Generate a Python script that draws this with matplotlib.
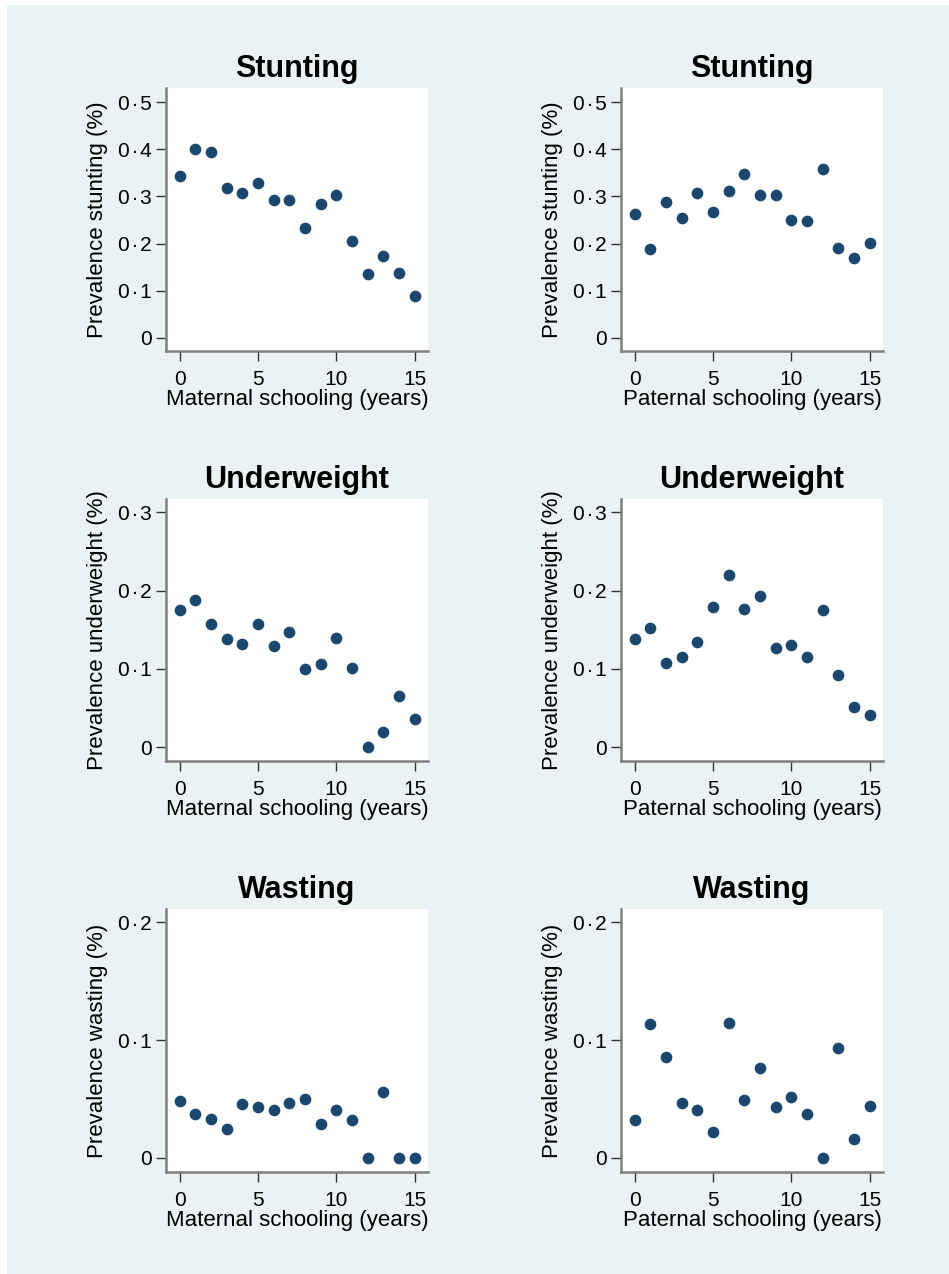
import numpy as np
import matplotlib
matplotlib.use("Agg")
import matplotlib.pyplot as plt
from matplotlib.patches import Rectangle

plt.rcParams['font.family'] = ['Liberation Sans', 'DejaVu Sans']

# schooling years 0..15
years = list(range(16))

stunting_mat = [0.343, 0.401, 0.395, 0.318, 0.308, 0.329, 0.293, 0.293,
                0.233, 0.283, 0.304, 0.206, 0.135, 0.173, 0.137, 0.088]
stunting_pat = [0.263, 0.188, 0.288, 0.254, 0.308, 0.267, 0.312, 0.348,
                0.302, 0.302, 0.249, 0.248, 0.358, 0.191, 0.169, 0.202]
under_mat = [0.175, 0.188, 0.158, 0.138, 0.132, 0.158, 0.129, 0.147,
             0.100, 0.106, 0.139, 0.101, 0.000, 0.020, 0.066, 0.036]
under_pat = [0.138, 0.152, 0.107, 0.115, 0.134, 0.179, 0.220, 0.177,
             0.193, 0.127, 0.130, 0.115, 0.175, 0.092, 0.051, 0.041]
wast_mat = [0.048, 0.037, 0.033, 0.025, 0.046, 0.043, 0.041, 0.047,
            0.050, 0.029, 0.041, 0.032, 0.000, 0.056, 0.000, 0.000]
wast_pat = [0.032, 0.114, 0.086, 0.047, 0.041, 0.022, 0.115, 0.049,
            0.076, 0.043, 0.052, 0.037, 0.000, 0.093, 0.016, 0.044]

titles = ['Stunting', 'Underweight', 'Wasting']
ylabels = ['Prevalence stunting (%)', 'Prevalence underweight (%)', 'Prevalence wasting (%)']
xlabels = ['Maternal schooling (years)', 'Paternal schooling (years)']
yticks = [[0, 0.1, 0.2, 0.3, 0.4, 0.5], [0, 0.1, 0.2, 0.3], [0, 0.1, 0.2]]
ylims = [(-0.028, 0.530), (-0.0175, 0.317), (-0.0119, 0.2114)]
data = [[stunting_mat, stunting_pat], [under_mat, under_pat], [wast_mat, wast_pat]]

bg = '#eaf2f3'
navy = '#1a476f'
W, H = 949, 1274

fig = plt.figure(figsize=(W / 100, H / 100), dpi=100, facecolor='white')
fig.patches.append(Rectangle((7 / W, 0), 1, 1 - 5 / H, transform=fig.transFigure,
                             facecolor=bg, edgecolor='none', zorder=-10))

lefts = [166 / W, 621 / W]
rows = [(88, 351), (499, 761), (909, 1172)]

def fmt(v):
    # Lancet-style decimal point with a little space around it
    if v == 0:
        return '0'
    return ('%.1f' % v).replace('.', '\u200a\u00b7\u200a')

for r in range(3):
    top, bot = rows[r]
    for c in range(2):
        ax = fig.add_axes([lefts[c], 1 - bot / H, 262 / W, (bot - top) / H])
        ax.set_facecolor('white')
        ax.plot(years, data[r][c], 'o', ms=7.4, color=navy, mec=navy)
        ax.set_xlim(-0.87, 15.84)
        ax.set_ylim(*ylims[r])
        ax.set_xticks([0, 5, 10, 15])
        ax.set_yticks(yticks[r])
        ax.set_yticklabels([fmt(v) for v in yticks[r]])
        for s in ['top', 'right']:
            ax.spines[s].set_visible(False)
        for s in ['left', 'bottom']:
            ax.spines[s].set_color('#7f7f7f')
            ax.spines[s].set_linewidth(1.8)
        ax.tick_params(axis='both', length=7, width=1, color='#333333', labelsize=15)
        ax.tick_params(axis='x', pad=7)
        ax.tick_params(axis='y', pad=3.5)
        ax.set_title(titles[r], fontsize=22, fontweight='bold', pad=8)
        ax.set_xlabel(xlabels[c], fontsize=16, labelpad=0)
        ax.set_ylabel(ylabels[r], fontsize=16, labelpad=7)

fig.savefig('out.png', dpi=100, facecolor='white')
